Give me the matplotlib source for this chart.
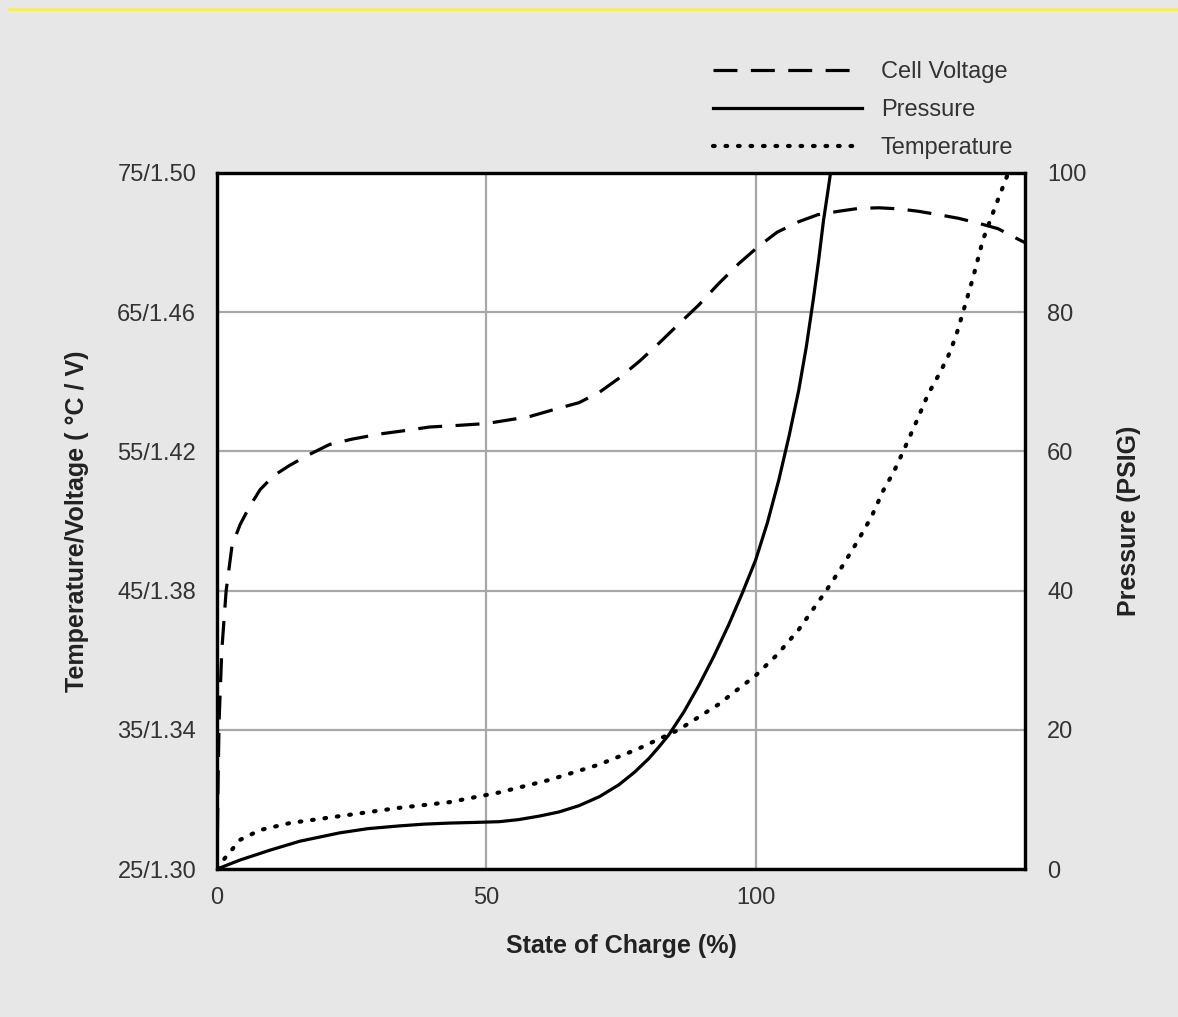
import numpy as np
import matplotlib.pyplot as plt
from matplotlib.lines import Line2D

# State of charge (%) and readings taken from the chart
soc_voltage = [0, 0.2, 0.4, 0.9, 1.7, 2.8, 4.3, 6, 8, 10.5, 13.5, 17, 20.9, 25, 30.2,
               35, 39.4, 45, 50, 54, 58, 62.5, 67.2, 71, 74.6, 78.5, 82, 86, 89.4,
               93, 96.9, 100.6, 104, 108, 111.5, 115.4, 119, 122.8, 126.5, 130.2,
               134, 137.6, 141.5, 145, 148.7, 150]
cell_voltage = [1.300, 1.325, 1.343, 1.363, 1.380, 1.393, 1.399, 1.404, 1.409, 1.413,
                1.416, 1.419, 1.422, 1.4235, 1.425, 1.426, 1.427, 1.4275, 1.428, 1.429,
                1.430, 1.432, 1.434, 1.437, 1.441, 1.446, 1.451, 1.457, 1.462, 1.468,
                1.474, 1.479, 1.483, 1.486, 1.488, 1.489, 1.4898, 1.490, 1.4897, 1.489,
                1.488, 1.487, 1.4855, 1.484, 1.481, 1.480]

soc_pressure = [0, 4.3, 9.8, 15.4, 22.8, 28, 33.9, 38.5, 43.1, 48, 52.4, 56, 59.8, 63.5,
                67.2, 71, 74.6, 77.5, 80.2, 82, 83.9, 86.7, 89.4, 92.2, 95, 97.5, 100,
                102.2, 104.3, 106.2, 108, 109.4, 110.7, 111.7, 112.6, 113.3, 113.9]
pressure = [0, 1.3, 2.7, 4.0, 5.2, 5.8, 6.2, 6.45, 6.6, 6.7, 6.8, 7.1, 7.6, 8.2,
            9.1, 10.4, 12.1, 13.9, 15.9, 17.5, 19.3, 22.6, 26.3, 30.5, 35.1, 39.6, 44.4,
            49.8, 55.9, 62.2, 68.8, 75.0, 81.8, 87.5, 93.2, 96.8, 100]

soc_temp = [0, 1.5, 4.3, 8, 13.5, 22.8, 33.9, 43.1, 52.4, 61.7, 70.9, 78, 85.7, 93,
            100, 104, 108, 113.1, 116, 119, 121.5, 123.7, 125.6, 127.4, 129.8, 132,
            134, 135.7, 137.2, 138.5, 140.3, 142.2, 144.5, 146.9]
temperature = [25, 25.8, 27.1, 27.8, 28.3, 28.8, 29.4, 29.8, 30.5, 31.4, 32.5, 33.6,
               35.0, 36.8, 38.9, 40.4, 42.2, 45.0, 46.7, 48.6, 50.3, 52.2, 53.5, 55.0,
               57.1, 59.1, 60.5, 61.8, 63.3, 65.0, 67.4, 70.2, 72.6, 75.0]

x_ticks = [0, 50, 100]
left_ticks = [25, 35, 45, 55, 65, 75]
left_labels = ['25/1.30', '35/1.34', '45/1.38', '55/1.42', '65/1.46', '75/1.50']
right_ticks = [0, 20, 40, 60, 80, 100]

plt.rcParams['font.family'] = ['Liberation Sans Narrow', 'Liberation Sans', 'DejaVu Sans']

bg = '#e7e7e7'
fig = plt.figure(figsize=(11.78, 10.17), dpi=100, facecolor=bg)
fig.add_artist(Line2D([0.008, 1.0], [1 - 9 / 1017, 1 - 9 / 1017], color='#f3ee6a',
                      lw=2.2, transform=fig.transFigure))

ax = fig.add_axes([0.1842, 0.1455, 0.6859, 0.6844])
ax.set_facecolor('white')
ax.set_xlim(0, 150)
ax.set_ylim(25, 75)

ax_v = ax.twinx()   # hidden voltage scale 1.30-1.50
ax_v.set_ylim(1.30, 1.50)
ax_v.axis('off')

ax_p = ax.twinx()   # pressure on the right
ax_p.set_ylim(0, 100)

lw = 2.3
dot_style = dict(lw=3.0, dashes=(0.4, 2.6), dash_capstyle='round')
ax.plot(soc_temp, temperature, color='black', zorder=3, **dot_style)
ax_v.plot(soc_voltage, cell_voltage, color='black', lw=lw, dashes=(7.5, 4.2), zorder=3)
ax_p.plot(soc_pressure, pressure, color='black', lw=lw, zorder=3)

ax.set_xticks(x_ticks)
ax.set_yticks(left_ticks)
ax.set_yticklabels(left_labels)
ax_p.set_yticks(right_ticks)
ax.grid(True, color='#a8a8a8', lw=1.6)
ax.set_axisbelow(True)

for a in (ax, ax_p):
    for s in a.spines.values():
        s.set_linewidth(2.3)
        s.set_color('black')
ax.tick_params(axis='both', length=0, labelsize=17, colors='#333333')
ax.tick_params(axis='y', pad=15)
ax.tick_params(axis='x', pad=13)
ax_p.tick_params(axis='y', length=0, labelsize=17, colors='#333333', pad=16)

ax.set_xlabel('State of Charge (%)', fontsize=18, fontweight='bold',
              color='#222222', labelpad=18, family=['Liberation Sans', 'DejaVu Sans'])
ax.set_ylabel('Temperature/Voltage ( °C / V)', fontsize=18, fontweight='bold',
              color='#222222', labelpad=20, family=['Liberation Sans', 'DejaVu Sans'])
ax_p.set_ylabel('Pressure (PSIG)', fontsize=18, fontweight='bold', color='#222222',
                labelpad=22, family=['Liberation Sans', 'DejaVu Sans'])

handles = [
    Line2D([], [], color='black', lw=lw, dashes=(7.5, 4.2)),
    Line2D([], [], color='black', lw=lw),
    Line2D([], [], color='black', **dot_style),
]
fig.legend(handles, ['Cell Voltage', 'Pressure', 'Temperature'],
           loc='upper left', bbox_to_anchor=(0.5875, 0.961), frameon=False,
           fontsize=17, handlelength=6.3, handletextpad=0.8, labelspacing=0.68,
           labelcolor='#333333')

fig.savefig('out.png', dpi=100, facecolor=bg)
